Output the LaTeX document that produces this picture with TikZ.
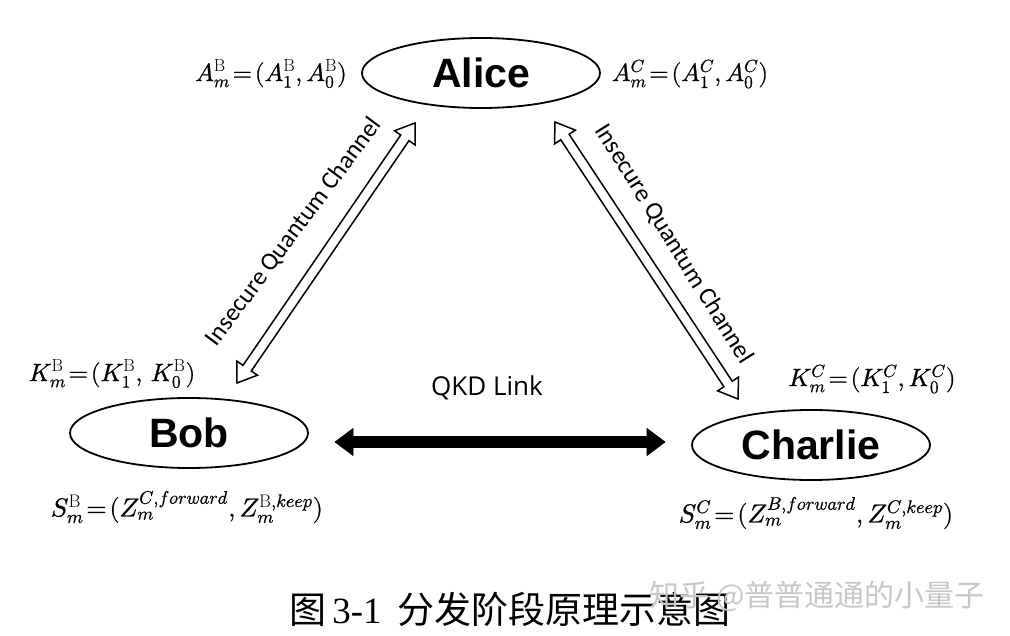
\documentclass[tikz,border=0pt]{standalone}
\usepackage{fontspec}
\usepackage{unicode-math}
\setmathfont{Latin Modern Math}[FakeBold=0.8]
\newfontfamily\namefont{Liberation Sans}
\newfontfamily\chanfont{Carlito}
\newfontfamily\qkdfont{Open Sans}
\newfontfamily\cjkfont{Noto Sans CJK SC}
\newfontfamily\capserif{Liberation Serif}
\usetikzlibrary{calc,shapes.geometric}
% open / filled double-headed arrow drawn as a polygon between two named coordinates
\newcommand\chanarrow[6]{%
  \coordinate (#2-h) at ($(#2)!#4!(#3)$);
  \coordinate (#3-h) at ($(#3)!#4!(#2)$);
  \draw[#1] (#2) -- ($(#2-h)!#5!90:(#3)$) -- ($(#2-h)!#6!90:(#3)$)
    -- ($(#3-h)!#6!-90:(#2)$) -- ($(#3-h)!#5!-90:(#2)$) -- (#3)
    -- ($(#3-h)!#5!90:(#2)$) -- ($(#3-h)!#6!90:(#2)$)
    -- ($(#2-h)!#6!-90:(#3)$) -- ($(#2-h)!#5!-90:(#3)$) -- cycle;}
\tikzset{
  person/.style={ellipse, draw, line width=1.8pt, minimum width=238pt,
    minimum height=70pt, inner sep=0pt,
    font=\namefont\bfseries\fontsize{41}{41}\selectfont},
  lbl/.style={inner sep=0pt, font=\fontsize{25}{28}\selectfont},
  chan/.style={inner sep=0pt, font=\chanfont\fontsize{25}{28}\selectfont},
  openarr/.style={draw=black, fill=white, line width=1.5pt, line join=miter},
  solidarr/.style={draw=black, fill=black, line width=0.6pt, line join=miter},
}
\begin{document}
\begin{tikzpicture}[x=1pt, y=-1pt]
\useasboundingbox[fill=white] (0,0) rectangle (1010,636);
% parties
\node[person] (Alice) at (481,73) {Alice};
\node[person] (Bob) at (189,433) {Bob};
\node[person] (Charlie) at (811,445) {Charlie};
% key labels
\node[lbl] (amb) at (271,74) {$A_m^{\mathrm{B}}\!=\!(A_1^{\mathrm{B}},A_0^{\mathrm{B}})$};
\node[lbl] (amc) at (690,74) {$A_m^{C}\!=\!(A_1^{C},A_0^{C})$};
\node[lbl] (kmb) at (112,374) {$K_m^{\mathrm{B}}\!=\!(K_1^{\mathrm{B}},\,K_0^{\mathrm{B}})$};
\node[lbl] (kmc) at (872,379) {$K_m^{C}\!=\!(K_1^{C},K_0^{C})$};
\node[lbl, font=\fontsize{26}{28}\selectfont] (smb) at (187,507) {$S_m^{\mathrm{B}}\!=\!(Z_m^{C,forward},Z_m^{\mathrm{B},keep})$};
\node[lbl, font=\fontsize{26}{28}\selectfont] (smc) at (816,513) {$S_m^{C}\!=\!(Z_m^{B,forward},Z_m^{C,keep})$};
% arrow end points
\coordinate (qa1) at (415,123);
\coordinate (qb1) at (237,383);
\coordinate (qa2) at (555,122);
\coordinate (qc2) at (738,399);
\coordinate (kb) at (335,442);
\coordinate (kc) at (665,442);
% insecure quantum channels
\chanarrow{openarr}{qa1}{qb1}{18pt}{12.5pt}{5pt}
\chanarrow{openarr}{qa2}{qc2}{18pt}{12.5pt}{5pt}
\node[chan, rotate=53.3] (ch1) at (294,232) {Insecure Quantum Channel};
\node[chan, rotate=-57.9] (ch2) at (674,244) {Insecure Quantum Channel};
% QKD link
\chanarrow{solidarr}{kb}{kc}{18pt}{13.5pt}{5.5pt}
\node[inner sep=0pt, font=\qkdfont\fontsize{26}{28}\selectfont] (qkd) at (487,388) {QKD Link};
% caption and watermark
\node[inner sep=0pt, font=\fontsize{37}{40}\selectfont] (cap) at (510,609)
  {\cjkfont 图\hspace{6pt}{\capserif 3-1}\hspace{16pt}分发阶段原理示意图};
\node[inner sep=0pt, text=black!22, font=\cjkfont\fontsize{30}{32}\selectfont] (wm) at (817,596)
  {知乎 @普普通通的小量子};
\end{tikzpicture}
\end{document}
